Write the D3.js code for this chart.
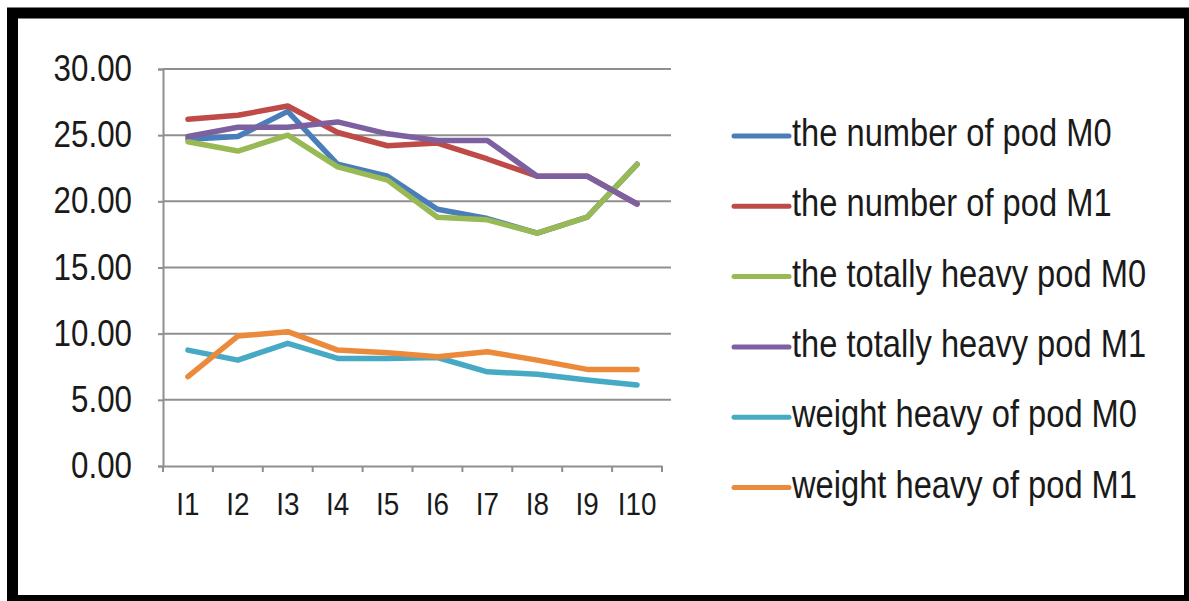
<!DOCTYPE html>
<html>
<head>
<meta charset="utf-8">
<script src="https://cdn.jsdelivr.net/npm/d3@7"></script>
<style>
  body { margin: 0; background: #fff; }
  svg text { font-family: "Liberation Sans", Arial, sans-serif; fill: #1a1a1a; }
</style>
</head>
<body>
<div id="chart"></div>
<script>
// categories and series
var categories = ["I1", "I2", "I3", "I4", "I5", "I6", "I7", "I8", "I9", "I10"];
var yTicks = [0, 5, 10, 15, 20, 25, 30];

var numberPodM0 = [24.7, 24.9, 26.8, 22.8, 21.9, 19.4, 18.7, 17.6, 18.8, 22.8];
var numberPodM1 = [26.2, 26.5, 27.2, 25.2, 24.2, 24.4, 23.2, 21.9, 21.9, 19.8];
var totalPodM0 = [24.5, 23.8, 25.0, 22.6, 21.6, 18.8, 18.6, 17.6, 18.8, 22.8];
var totalPodM1 = [24.9, 25.6, 25.6, 26.0, 25.1, 24.6, 24.6, 21.9, 21.9, 19.8];
var weightPodM0 = [8.76, 8.0, 9.27, 8.13, 8.13, 8.2, 7.12, 6.93, 6.5, 6.12];
var weightPodM1 = [6.75, 9.82, 10.15, 8.76, 8.56, 8.26, 8.63, 8.0, 7.3, 7.3];

var seriesNames = [
  "the number of pod M0",
  "the number of pod M1",
  "the totally heavy pod M0",
  "the totally heavy pod M1",
  "weight heavy of pod M0",
  "weight heavy of pod M1"
];
var seriesColors = ["#4a7ebb", "#be4b48", "#98b954", "#7d60a0", "#46aac5", "#ec8a3c"];
var seriesValues = [numberPodM0, numberPodM1, totalPodM0, totalPodM1, weightPodM0, weightPodM1];

var W = 1189, H = 601;
var svg = d3.select("#chart").append("svg")
    .attr("width", W)
    .attr("height", H);

// narrow look: squeeze text horizontally
function squeeze(sel, k) {
    sel.each(function() {
        var w = this.getComputedTextLength();
        d3.select(this)
            .attr("textLength", w * k)
            .attr("lengthAdjust", "spacingAndGlyphs");
    });
}

// black frame
svg.append("rect")
    .attr("x", 12.5).attr("y", 13)
    .attr("width", 1177).attr("height", 587.5)
    .style("fill", "#fff")
    .style("stroke", "#000")
    .style("stroke-width", 11);

var plot = { left: 163, right: 662, top: 69, bottom: 466 };

var xScale = d3.scaleBand()
    .domain(categories)
    .range([plot.left, plot.right]);

var yScale = d3.scaleLinear()
    .domain([0, 30])
    .range([plot.bottom, plot.top]);

// gridlines
svg.append("g")
    .selectAll("line")
    .data(yTicks.filter(function(d) { return d > 0; }))
    .enter().append("line")
    .attr("x1", plot.left)
    .attr("x2", 671)
    .attr("y1", function(d) { return yScale(d); })
    .attr("y2", function(d) { return yScale(d); })
    .style("stroke", "#8f8f8f")
    .style("stroke-width", 2);

// y axis
var yAxis = svg.append("g")
    .attr("transform", "translate(" + plot.left + ",0)")
    .call(d3.axisLeft(yScale).tickValues(yTicks).tickSize(5).tickPadding(26)
        .tickFormat(function(d) { return d3.format(".2f")(d); }));
yAxis.selectAll("text").style("font-size", "36px").call(squeeze, 0.87);
yAxis.selectAll("line, path").style("stroke", "#8f8f8f").style("stroke-width", 2);

// x axis (labels at band centres, ticks at boundaries)
var xAxis = svg.append("g")
    .attr("transform", "translate(0," + plot.bottom + ")")
    .call(d3.axisBottom(xScale).tickSize(0).tickPadding(26));
xAxis.selectAll("text").style("font-size", "32px").call(squeeze, 0.87);
xAxis.select("path").style("stroke", "#8f8f8f").style("stroke-width", 2);

xAxis.selectAll("line.bound")
    .data(d3.range(categories.length + 1))
    .enter().append("line")
    .attr("class", "bound")
    .attr("x1", function(i) { return plot.left + i * xScale.step(); })
    .attr("x2", function(i) { return plot.left + i * xScale.step(); })
    .attr("y1", 0)
    .attr("y2", 6)
    .style("stroke", "#8f8f8f")
    .style("stroke-width", 2);

// lines
var line = d3.line()
    .x(function(d, i) { return xScale(categories[i]) + xScale.bandwidth() / 2; })
    .y(function(d) { return yScale(d); });

seriesValues.forEach(function(vals, k) {
    svg.append("path")
        .datum(vals)
        .attr("d", line)
        .style("fill", "none")
        .style("stroke", seriesColors[k])
        .style("stroke-width", 5.5)
        .style("stroke-linejoin", "round")
        .style("stroke-linecap", "round");
});

// legend
var legend = svg.append("g");
seriesNames.forEach(function(name, k) {
    var y = 136 + k * 70.3;
    legend.append("line")
        .attr("x1", 734).attr("x2", 789)
        .attr("y1", y).attr("y2", y)
        .style("stroke", seriesColors[k])
        .style("stroke-width", 5)
        .style("stroke-linecap", "round");
    legend.append("text")
        .attr("transform", "translate(792," + (y + 10) + ") scale(0.86,1)")
        .style("font-size", "38px")
        .text(name);
});
</script>
</body>
</html>
